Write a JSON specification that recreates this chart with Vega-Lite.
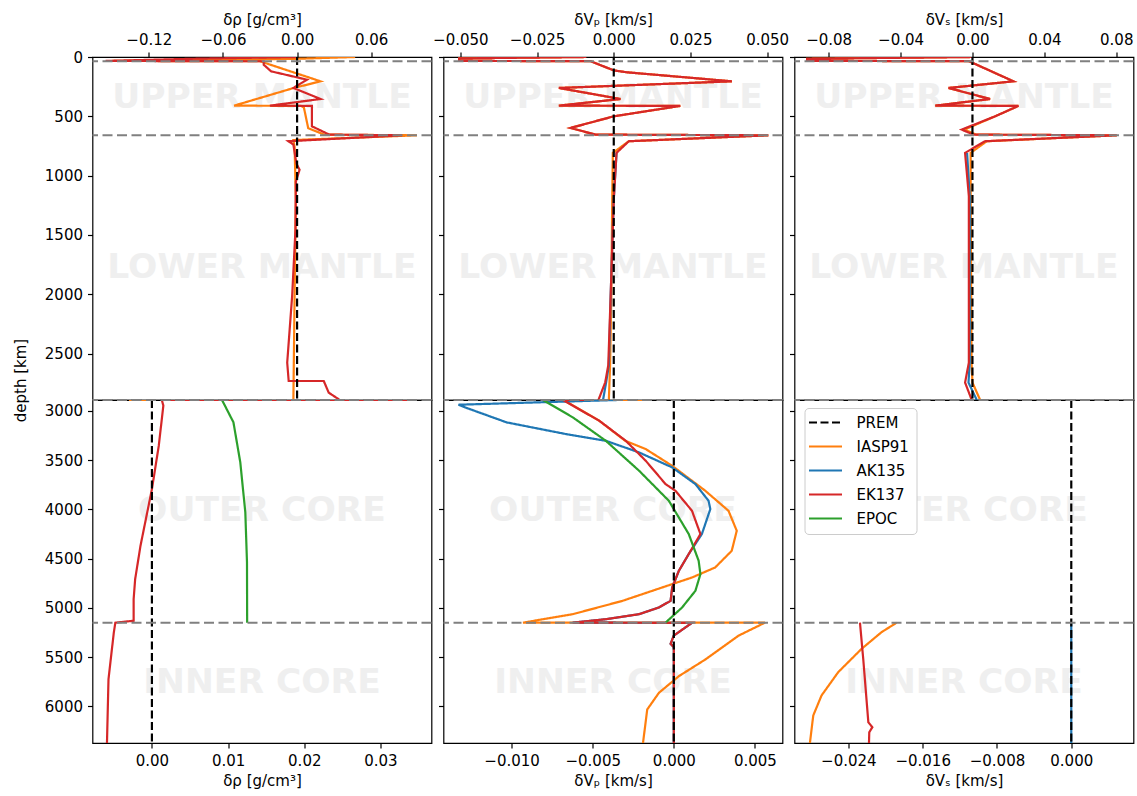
{
  "$schema": "https://vega.github.io/schema/vega-lite/v6.json",
  "padding": {"left": 12.5, "top": 11, "right": 2, "bottom": 2},
  "background": "white",
  "config": {
    "font": "DejaVu Sans",
    "view": {"stroke": "black", "strokeWidth": 1.2},
    "axis": {"domain": false, "grid": false, "tickColor": "black", "tickWidth": 1.2, "tickSize": 5, "labelFontSize": 15, "labelColor": "black", "labelPadding": 5, "titleFontSize": 15, "titleFontWeight": "normal", "titleColor": "black", "labelFont": "DejaVu Sans", "titleFont": "DejaVu Sans", "titlePadding": 5, "labelFlush": false, "labelOverlap": false},
    "legend": {"orient": "none", "legendX": 712, "legendY": 351, "labelFontSize": 15, "labelFont": "DejaVu Sans", "labelColor": "black", "symbolType": "M-2.75,0H2.75", "symbolSize": 144, "symbolStrokeWidth": 2.2, "symbolOffset": 6.5, "labelOffset": 23.5, "rowPadding": 8, "padding": 7, "strokeColor": "#cccccc", "fillColor": "white", "cornerRadius": 4}
  },
  "datasets": {
    "c": [
      {"p":"rm","m":"IASP91","v":0.047,"d":0},{"p":"rm","m":"IASP91","v":0.0,"d":15},{"p":"rm","m":"IASP91","v":-0.15,"d":33},{"p":"rm","m":"IASP91","v":-0.03,"d":36},{"p":"rm","m":"IASP91","v":0.019,"d":205},{"p":"rm","m":"IASP91","v":-0.003,"d":262},{"p":"rm","m":"IASP91","v":-0.051,"d":410},{"p":"rm","m":"IASP91","v":0.003,"d":412},{"p":"rm","m":"IASP91","v":0.0055,"d":425},{"p":"rm","m":"IASP91","v":0.009,"d":600},{"p":"rm","m":"IASP91","v":0.022,"d":654},{"p":"rm","m":"IASP91","v":0.097,"d":660},{"p":"rm","m":"IASP91","v":-0.003,"d":700},{"p":"rm","m":"IASP91","v":-0.002,"d":760},{"p":"rm","m":"IASP91","v":-0.001,"d":1200},{"p":"rm","m":"IASP91","v":-0.002,"d":2000},{"p":"rm","m":"IASP91","v":-0.003,"d":2891},
      {"p":"rm","m":"EK137","v":0.0,"d":0},{"p":"rm","m":"EK137","v":-0.085,"d":15},{"p":"rm","m":"EK137","v":-0.155,"d":33},{"p":"rm","m":"EK137","v":-0.027,"d":36},{"p":"rm","m":"EK137","v":-0.027,"d":65},{"p":"rm","m":"EK137","v":-0.021,"d":121},{"p":"rm","m":"EK137","v":0.008,"d":191},{"p":"rm","m":"EK137","v":-0.003,"d":261},{"p":"rm","m":"EK137","v":0.019,"d":354},{"p":"rm","m":"EK137","v":-0.022,"d":410},{"p":"rm","m":"EK137","v":0.012,"d":412},{"p":"rm","m":"EK137","v":0.012,"d":584},{"p":"rm","m":"EK137","v":0.026,"d":654},{"p":"rm","m":"EK137","v":0.085,"d":660},{"p":"rm","m":"EK137","v":-0.007,"d":710},{"p":"rm","m":"EK137","v":-0.003,"d":738},{"p":"rm","m":"EK137","v":-0.0005,"d":900},{"p":"rm","m":"EK137","v":0.002,"d":950},{"p":"rm","m":"EK137","v":-0.001,"d":1050},{"p":"rm","m":"EK137","v":-0.0013,"d":1454},{"p":"rm","m":"EK137","v":-0.004,"d":2015},{"p":"rm","m":"EK137","v":-0.008,"d":2576},{"p":"rm","m":"EK137","v":-0.0068,"d":2731},{"p":"rm","m":"EK137","v":0.0216,"d":2731},{"p":"rm","m":"EK137","v":0.0256,"d":2829},{"p":"rm","m":"EK137","v":0.0337,"d":2885},{"p":"rm","m":"EK137","v":0.0345,"d":2891},
      {"p":"rm","m":"PREM","v":0,"d":0},{"p":"rm","m":"PREM","v":0,"d":2891},

      {"p":"pm","m":"IASP91","v":-0.009,"d":0},{"p":"pm","m":"IASP91","v":-0.0504,"d":12},{"p":"pm","m":"IASP91","v":-0.0504,"d":33},{"p":"pm","m":"IASP91","v":-0.0076,"d":35},{"p":"pm","m":"IASP91","v":0.0,"d":113},{"p":"pm","m":"IASP91","v":0.0043,"d":129},{"p":"pm","m":"IASP91","v":0.0385,"d":205},{"p":"pm","m":"IASP91","v":-0.0179,"d":261},{"p":"pm","m":"IASP91","v":0.0022,"d":354},{"p":"pm","m":"IASP91","v":-0.0179,"d":410},{"p":"pm","m":"IASP91","v":0.0217,"d":412},{"p":"pm","m":"IASP91","v":0.0,"d":500},{"p":"pm","m":"IASP91","v":-0.0141,"d":598},{"p":"pm","m":"IASP91","v":-0.006,"d":654},{"p":"pm","m":"IASP91","v":0.0504,"d":660},{"p":"pm","m":"IASP91","v":0.0049,"d":710},{"p":"pm","m":"IASP91","v":-0.0003,"d":808},{"p":"pm","m":"IASP91","v":-0.0005,"d":1200},{"p":"pm","m":"IASP91","v":-0.0008,"d":2000},{"p":"pm","m":"IASP91","v":-0.0012,"d":2600},{"p":"pm","m":"IASP91","v":-0.0014,"d":2744},{"p":"pm","m":"IASP91","v":-0.0016,"d":2891},
      {"p":"pm","m":"AK135","v":0.0009,"d":808},{"p":"pm","m":"AK135","v":0.0,"d":1200},{"p":"pm","m":"AK135","v":-0.001,"d":2000},{"p":"pm","m":"AK135","v":-0.0016,"d":2600},{"p":"pm","m":"AK135","v":-0.0025,"d":2744},{"p":"pm","m":"AK135","v":-0.0035,"d":2891},
      {"p":"pm","m":"EK137","v":-0.009,"d":0},{"p":"pm","m":"EK137","v":-0.0504,"d":12},{"p":"pm","m":"EK137","v":-0.0504,"d":33},{"p":"pm","m":"EK137","v":-0.0076,"d":35},{"p":"pm","m":"EK137","v":0.0,"d":113},{"p":"pm","m":"EK137","v":0.0043,"d":129},{"p":"pm","m":"EK137","v":0.0385,"d":205},{"p":"pm","m":"EK137","v":-0.0179,"d":261},{"p":"pm","m":"EK137","v":0.0022,"d":354},{"p":"pm","m":"EK137","v":-0.0179,"d":410},{"p":"pm","m":"EK137","v":0.0217,"d":412},{"p":"pm","m":"EK137","v":0.0,"d":500},{"p":"pm","m":"EK137","v":-0.0141,"d":598},{"p":"pm","m":"EK137","v":-0.006,"d":654},{"p":"pm","m":"EK137","v":0.0504,"d":660},{"p":"pm","m":"EK137","v":0.0049,"d":710},{"p":"pm","m":"EK137","v":0.0009,"d":808},{"p":"pm","m":"EK137","v":0.0,"d":1200},{"p":"pm","m":"EK137","v":-0.001,"d":2000},{"p":"pm","m":"EK137","v":-0.0018,"d":2600},{"p":"pm","m":"EK137","v":-0.0028,"d":2744},{"p":"pm","m":"EK137","v":-0.005,"d":2891},
      {"p":"pm","m":"PREM","v":0,"d":0},{"p":"pm","m":"PREM","v":0,"d":2891},

      {"p":"sm","m":"IASP91","v":0.0,"d":0},{"p":"sm","m":"IASP91","v":-0.092,"d":15},{"p":"sm","m":"IASP91","v":-0.092,"d":33},{"p":"sm","m":"IASP91","v":-0.002,"d":35},{"p":"sm","m":"IASP91","v":0.0228,"d":205},{"p":"sm","m":"IASP91","v":-0.0133,"d":261},{"p":"sm","m":"IASP91","v":0.0098,"d":354},{"p":"sm","m":"IASP91","v":-0.0207,"d":410},{"p":"sm","m":"IASP91","v":0.0256,"d":412},{"p":"sm","m":"IASP91","v":0.0126,"d":500},{"p":"sm","m":"IASP91","v":-0.0045,"d":612},{"p":"sm","m":"IASP91","v":0.002,"d":654},{"p":"sm","m":"IASP91","v":0.0803,"d":660},{"p":"sm","m":"IASP91","v":0.008,"d":710},{"p":"sm","m":"IASP91","v":-0.001,"d":808},{"p":"sm","m":"IASP91","v":-0.001,"d":1173},{"p":"sm","m":"IASP91","v":-0.0005,"d":2576},{"p":"sm","m":"IASP91","v":0.0,"d":2744},{"p":"sm","m":"IASP91","v":0.0043,"d":2891},
      {"p":"sm","m":"AK135","v":-0.003,"d":808},{"p":"sm","m":"AK135","v":-0.0015,"d":1173},{"p":"sm","m":"AK135","v":-0.0015,"d":2576},{"p":"sm","m":"AK135","v":-0.0022,"d":2744},{"p":"sm","m":"AK135","v":0.0024,"d":2891},
      {"p":"sm","m":"EK137","v":0.0,"d":0},{"p":"sm","m":"EK137","v":-0.092,"d":15},{"p":"sm","m":"EK137","v":-0.092,"d":33},{"p":"sm","m":"EK137","v":-0.002,"d":35},{"p":"sm","m":"EK137","v":0.0228,"d":205},{"p":"sm","m":"EK137","v":-0.0133,"d":261},{"p":"sm","m":"EK137","v":0.0098,"d":354},{"p":"sm","m":"EK137","v":-0.0207,"d":410},{"p":"sm","m":"EK137","v":0.0256,"d":412},{"p":"sm","m":"EK137","v":0.0126,"d":500},{"p":"sm","m":"EK137","v":-0.006,"d":612},{"p":"sm","m":"EK137","v":0.0006,"d":654},{"p":"sm","m":"EK137","v":0.0803,"d":660},{"p":"sm","m":"EK137","v":0.007,"d":710},{"p":"sm","m":"EK137","v":-0.0041,"d":808},{"p":"sm","m":"EK137","v":-0.002,"d":1173},{"p":"sm","m":"EK137","v":-0.002,"d":2576},{"p":"sm","m":"EK137","v":-0.0041,"d":2744},{"p":"sm","m":"EK137","v":-0.0004,"d":2891},
      {"p":"sm","m":"PREM","v":0,"d":0},{"p":"sm","m":"PREM","v":0,"d":2891},

      {"p":"rc","m":"IASP91","v":-0.003,"d":2891},{"p":"rc","m":"IASP91","v":0.0,"d":2891},
      {"p":"rc","m":"EK137","v":0.0345,"d":2891},{"p":"rc","m":"EK137","v":0.0013,"d":2891},{"p":"rc","m":"EK137","v":0.0015,"d":2948},{"p":"rc","m":"EK137","v":0.0009,"d":3355},{"p":"rc","m":"EK137","v":0.0,"d":3795},{"p":"rc","m":"EK137","v":-0.0015,"d":4370},{"p":"rc","m":"EK137","v":-0.0022,"d":4708},{"p":"rc","m":"EK137","v":-0.0024,"d":4911},{"p":"rc","m":"EK137","v":-0.0024,"d":5131},{"p":"rc","m":"EK137","v":-0.0048,"d":5150},{"p":"rc","m":"EK137","v":-0.005,"d":5249},{"p":"rc","m":"EK137","v":-0.0057,"d":5723},{"p":"rc","m":"EK137","v":-0.0059,"d":6371},
      {"p":"rc","m":"EPOC","v":0.0092,"d":2891},{"p":"rc","m":"EPOC","v":0.0107,"d":3117},{"p":"rc","m":"EPOC","v":0.0116,"d":3523},{"p":"rc","m":"EPOC","v":0.01226,"d":4031},{"p":"rc","m":"EPOC","v":0.01248,"d":4539},{"p":"rc","m":"EPOC","v":0.0125,"d":5150},
      {"p":"rc","m":"PREM","v":0,"d":2891},{"p":"rc","m":"PREM","v":0,"d":6371},

      {"p":"pc","m":"IASP91","v":-0.0018,"d":2891},{"p":"pc","m":"IASP91","v":-0.0068,"d":2891},{"p":"pc","m":"IASP91","v":-0.0062,"d":2948},{"p":"pc","m":"IASP91","v":-0.0046,"d":3101},{"p":"pc","m":"IASP91","v":-0.003,"d":3305},{"p":"pc","m":"IASP91","v":-0.00173,"d":3389},{"p":"pc","m":"IASP91","v":-0.0001,"d":3559},{"p":"pc","m":"IASP91","v":0.00194,"d":3812},{"p":"pc","m":"IASP91","v":0.00337,"d":4015},{"p":"pc","m":"IASP91","v":0.00388,"d":4218},{"p":"pc","m":"IASP91","v":0.00357,"d":4421},{"p":"pc","m":"IASP91","v":0.00255,"d":4590},{"p":"pc","m":"IASP91","v":0.00112,"d":4692},{"p":"pc","m":"IASP91","v":-0.0001,"d":4759},{"p":"pc","m":"IASP91","v":-0.00317,"d":4929},{"p":"pc","m":"IASP91","v":-0.00623,"d":5064},{"p":"pc","m":"IASP91","v":-0.0093,"d":5150},{"p":"pc","m":"IASP91","v":0.00562,"d":5150},{"p":"pc","m":"IASP91","v":0.004,"d":5281},{"p":"pc","m":"IASP91","v":0.00194,"d":5524},{"p":"pc","m":"IASP91","v":0.00031,"d":5693},{"p":"pc","m":"IASP91","v":-0.00092,"d":5862},{"p":"pc","m":"IASP91","v":-0.00164,"d":6031},{"p":"pc","m":"IASP91","v":-0.0019,"d":6371},
      {"p":"pc","m":"AK135","v":-0.0035,"d":2891},{"p":"pc","m":"AK135","v":-0.01328,"d":2939},{"p":"pc","m":"AK135","v":-0.01287,"d":2966},{"p":"pc","m":"AK135","v":-0.01031,"d":3118},{"p":"pc","m":"AK135","v":-0.00664,"d":3237},{"p":"pc","m":"AK135","v":-0.00419,"d":3305},{"p":"pc","m":"AK135","v":-0.00214,"d":3423},{"p":"pc","m":"AK135","v":-0.0001,"d":3575},{"p":"pc","m":"AK135","v":0.00133,"d":3744},{"p":"pc","m":"AK135","v":0.00214,"d":3913},{"p":"pc","m":"AK135","v":0.00225,"d":3998},{"p":"pc","m":"AK135","v":0.00173,"d":4251},{"p":"pc","m":"AK135","v":0.00092,"d":4454},{"p":"pc","m":"AK135","v":0.00031,"d":4624},{"p":"pc","m":"AK135","v":-0.0001,"d":4793},{"p":"pc","m":"AK135","v":-0.0002,"d":4929},{"p":"pc","m":"AK135","v":-0.00092,"d":4996},{"p":"pc","m":"AK135","v":-0.00214,"d":5064},{"p":"pc","m":"AK135","v":-0.00419,"d":5115},{"p":"pc","m":"AK135","v":-0.00623,"d":5150},{"p":"pc","m":"AK135","v":0.00112,"d":5152},{"p":"pc","m":"AK135","v":0.0,"d":5281},{"p":"pc","m":"AK135","v":-0.0002,"d":5365},{"p":"pc","m":"AK135","v":0.0,"d":5399},{"p":"pc","m":"AK135","v":0.0,"d":6371},
      {"p":"pc","m":"EK137","v":-0.005,"d":2891},{"p":"pc","m":"EK137","v":-0.00684,"d":2891},{"p":"pc","m":"EK137","v":-0.00623,"d":2948},{"p":"pc","m":"EK137","v":-0.0046,"d":3101},{"p":"pc","m":"EK137","v":-0.00296,"d":3305},{"p":"pc","m":"EK137","v":-0.00173,"d":3508},{"p":"pc","m":"EK137","v":-0.00051,"d":3744},{"p":"pc","m":"EK137","v":0.0001,"d":3812},{"p":"pc","m":"EK137","v":0.00112,"d":4015},{"p":"pc","m":"EK137","v":0.00164,"d":4251},{"p":"pc","m":"EK137","v":0.00092,"d":4454},{"p":"pc","m":"EK137","v":0.00031,"d":4624},{"p":"pc","m":"EK137","v":-0.0001,"d":4793},{"p":"pc","m":"EK137","v":-0.0002,"d":4929},{"p":"pc","m":"EK137","v":-0.00092,"d":4996},{"p":"pc","m":"EK137","v":-0.00214,"d":5064},{"p":"pc","m":"EK137","v":-0.00419,"d":5115},{"p":"pc","m":"EK137","v":-0.00623,"d":5150},{"p":"pc","m":"EK137","v":0.00112,"d":5152},{"p":"pc","m":"EK137","v":0.0,"d":5281},{"p":"pc","m":"EK137","v":-0.0002,"d":5365},{"p":"pc","m":"EK137","v":0.0,"d":5399},{"p":"pc","m":"EK137","v":0.0,"d":6371},
      {"p":"pc","m":"EPOC","v":-0.00807,"d":2891},{"p":"pc","m":"EPOC","v":-0.00623,"d":3067},{"p":"pc","m":"EPOC","v":-0.00419,"d":3305},{"p":"pc","m":"EPOC","v":-0.00214,"d":3609},{"p":"pc","m":"EPOC","v":-0.00031,"d":3913},{"p":"pc","m":"EPOC","v":0.00092,"d":4251},{"p":"pc","m":"EPOC","v":0.00153,"d":4522},{"p":"pc","m":"EPOC","v":0.00164,"d":4658},{"p":"pc","m":"EPOC","v":0.00133,"d":4827},{"p":"pc","m":"EPOC","v":0.00051,"d":4996},{"p":"pc","m":"EPOC","v":-0.00051,"d":5150},
      {"p":"pc","m":"PREM","v":0,"d":2891},{"p":"pc","m":"PREM","v":0,"d":6371},

      {"p":"sc","m":"IASP91","v":-0.0188,"d":5150},{"p":"sc","m":"IASP91","v":-0.02042,"d":5246},{"p":"sc","m":"IASP91","v":-0.02258,"d":5416},{"p":"sc","m":"IASP91","v":-0.02509,"d":5652},{"p":"sc","m":"IASP91","v":-0.02689,"d":5889},{"p":"sc","m":"IASP91","v":-0.02778,"d":6092},{"p":"sc","m":"IASP91","v":-0.02814,"d":6371},
      {"p":"sc","m":"AK135","v":0,"d":5150},{"p":"sc","m":"AK135","v":0,"d":6371},
      {"p":"sc","m":"EK137","v":-0.02275,"d":5150},{"p":"sc","m":"EK137","v":-0.0224,"d":5517},{"p":"sc","m":"EK137","v":-0.02185,"d":6160},{"p":"sc","m":"EK137","v":-0.02142,"d":6211},{"p":"sc","m":"EK137","v":-0.02175,"d":6262},{"p":"sc","m":"EK137","v":-0.02178,"d":6371},
      {"p":"sc","m":"PREM","v":0,"d":2891},{"p":"sc","m":"PREM","v":0,"d":6371}
    ],
    "w": [
      {"p":"rm","t":"UPPER MANTLE","v":-0.0284,"d":347},{"p":"rm","t":"LOWER MANTLE","v":-0.0284,"d":1775},
      {"p":"pm","t":"UPPER MANTLE","v":-0.00025,"d":347},{"p":"pm","t":"LOWER MANTLE","v":-0.00025,"d":1775},
      {"p":"sm","t":"UPPER MANTLE","v":-0.0047,"d":347},{"p":"sm","t":"LOWER MANTLE","v":-0.0047,"d":1775},
      {"p":"rc","t":"OUTER CORE","v":0.01445,"d":4020},{"p":"rc","t":"INNER CORE","v":0.01445,"d":5760},
      {"p":"pc","t":"OUTER CORE","v":-0.00375,"d":4020},{"p":"pc","t":"INNER CORE","v":-0.00375,"d":5760},
      {"p":"sc","t":"OUTER CORE","v":-0.01155,"d":4020},{"p":"sc","t":"INNER CORE","v":-0.01155,"d":5760}
    ],
    "h": [
      {"p":"rm","d":35},{"p":"rm","d":660},{"p":"rm","d":2891},
      {"p":"pm","d":35},{"p":"pm","d":660},{"p":"pm","d":2891},
      {"p":"sm","d":35},{"p":"sm","d":660},{"p":"sm","d":2891},
      {"p":"rc","d":2891},{"p":"rc","d":5150},
      {"p":"pc","d":2891},{"p":"pc","d":5150},
      {"p":"sc","d":2891},{"p":"sc","d":5150}
    ]
  },
  "columns": 3,
  "spacing": {"row": 0, "column": 12},
  "bounds": "flush",
  "concat": [
    {
      "width": 339, "height": 343,
      "layer": [
        {"data": {"name": "w"}, "transform": [{"filter": "datum.p == 'rm'"}], "mark": {"type": "text", "fontSize": 34.5, "fontWeight": "bold", "color": "#efefef"}, "encoding": {"x": {"field": "v", "type": "quantitative"}, "y": {"field": "d", "type": "quantitative"}, "text": {"field": "t"}}},
        {"data": {"name": "c"}, "transform": [{"filter": "datum.p == 'rm'"}], "mark": {"type": "line", "strokeWidth": 2.2, "clip": true},
         "encoding": {
           "x": {"field": "v", "type": "quantitative", "scale": {"domain": [-0.1656, 0.1088], "nice": false, "zero": false}, "axis": {"orient": "top", "values": [-0.12, -0.06, 0, 0.06], "format": ".2f", "title": "δρ [g/cm³]"}},
           "y": {"field": "d", "type": "quantitative", "scale": {"domain": [0, 2891], "reverse": true, "nice": false, "zero": false}, "axis": {"values": [0, 500, 1000, 1500, 2000, 2500], "format": "d", "title": "depth [km]", "titleX": -72, "titleY": 323, "titleAngle": -90, "titleAlign": "center", "titleBaseline": "middle"}},
           "color": {"field": "m", "type": "nominal", "scale": {"domain": ["PREM", "IASP91", "AK135", "EK137", "EPOC"], "range": ["#000000", "#ff7f0e", "#1f77b4", "#d62728", "#2ca02c"]}, "legend": {"title": null}},
           "strokeDash": {"field": "m", "type": "nominal", "scale": {"domain": ["PREM", "IASP91", "AK135", "EK137", "EPOC"], "range": [[8, 3.5], [1, 0], [1, 0], [1, 0], [1, 0]]}, "legend": {"title": null}},
           "order": {"value": null}
         }},
        {"data": {"name": "h"}, "transform": [{"filter": "datum.p == 'rm'"}], "mark": {"type": "rule", "color": "#808080", "strokeDash": [10, 4.5], "strokeWidth": 2}, "encoding": {"y": {"field": "d", "type": "quantitative"}}}
      ]
    },
    {
      "width": 339, "height": 343,
      "layer": [
        {"data": {"name": "w"}, "transform": [{"filter": "datum.p == 'pm'"}], "mark": {"type": "text", "fontSize": 34.5, "fontWeight": "bold", "color": "#efefef"}, "encoding": {"x": {"field": "v", "type": "quantitative"}, "y": {"field": "d", "type": "quantitative"}, "text": {"field": "t"}}},
        {"data": {"name": "c"}, "transform": [{"filter": "datum.p == 'pm'"}], "mark": {"type": "line", "strokeWidth": 2.2, "clip": true},
         "encoding": {
           "x": {"field": "v", "type": "quantitative", "scale": {"domain": [-0.0555, 0.055], "nice": false, "zero": false}, "axis": {"orient": "top", "values": [-0.05, -0.025, 0, 0.025, 0.05], "format": ".3f", "title": "δVₚ [km/s]"}},
           "y": {"field": "d", "type": "quantitative", "scale": {"domain": [0, 2891], "reverse": true, "nice": false, "zero": false}, "axis": {"values": [0, 500, 1000, 1500, 2000, 2500], "labels": false, "title": null}},
           "color": {"field": "m", "type": "nominal", "scale": {"domain": ["PREM", "IASP91", "AK135", "EK137", "EPOC"], "range": ["#000000", "#ff7f0e", "#1f77b4", "#d62728", "#2ca02c"]}, "legend": {"title": null}},
           "strokeDash": {"field": "m", "type": "nominal", "scale": {"domain": ["PREM", "IASP91", "AK135", "EK137", "EPOC"], "range": [[8, 3.5], [1, 0], [1, 0], [1, 0], [1, 0]]}, "legend": {"title": null}},
           "order": {"value": null}
         }},
        {"data": {"name": "h"}, "transform": [{"filter": "datum.p == 'pm'"}], "mark": {"type": "rule", "color": "#808080", "strokeDash": [10, 4.5], "strokeWidth": 2}, "encoding": {"y": {"field": "d", "type": "quantitative"}}}
      ]
    },
    {
      "width": 339, "height": 343,
      "layer": [
        {"data": {"name": "w"}, "transform": [{"filter": "datum.p == 'sm'"}], "mark": {"type": "text", "fontSize": 34.5, "fontWeight": "bold", "color": "#efefef"}, "encoding": {"x": {"field": "v", "type": "quantitative"}, "y": {"field": "d", "type": "quantitative"}, "text": {"field": "t"}}},
        {"data": {"name": "c"}, "transform": [{"filter": "datum.p == 'sm'"}], "mark": {"type": "line", "strokeWidth": 2.2, "clip": true},
         "encoding": {
           "x": {"field": "v", "type": "quantitative", "scale": {"domain": [-0.099, 0.0896], "nice": false, "zero": false}, "axis": {"orient": "top", "values": [-0.08, -0.04, 0, 0.04, 0.08], "format": ".2f", "title": "δVₛ [km/s]"}},
           "y": {"field": "d", "type": "quantitative", "scale": {"domain": [0, 2891], "reverse": true, "nice": false, "zero": false}, "axis": {"values": [0, 500, 1000, 1500, 2000, 2500], "labels": false, "title": null}},
           "color": {"field": "m", "type": "nominal", "scale": {"domain": ["PREM", "IASP91", "AK135", "EK137", "EPOC"], "range": ["#000000", "#ff7f0e", "#1f77b4", "#d62728", "#2ca02c"]}, "legend": {"title": null}},
           "strokeDash": {"field": "m", "type": "nominal", "scale": {"domain": ["PREM", "IASP91", "AK135", "EK137", "EPOC"], "range": [[8, 3.5], [1, 0], [1, 0], [1, 0], [1, 0]]}, "legend": {"title": null}},
           "order": {"value": null}
         }},
        {"data": {"name": "h"}, "transform": [{"filter": "datum.p == 'sm'"}], "mark": {"type": "rule", "color": "#808080", "strokeDash": [10, 4.5], "strokeWidth": 2}, "encoding": {"y": {"field": "d", "type": "quantitative"}}}
      ]
    },
    {
      "width": 339, "height": 343,
      "layer": [
        {"data": {"name": "w"}, "transform": [{"filter": "datum.p == 'rc'"}], "mark": {"type": "text", "fontSize": 34.5, "fontWeight": "bold", "color": "#efefef"}, "encoding": {"x": {"field": "v", "type": "quantitative"}, "y": {"field": "d", "type": "quantitative"}, "text": {"field": "t"}}},
        {"data": {"name": "c"}, "transform": [{"filter": "datum.p == 'rc'"}], "mark": {"type": "line", "strokeWidth": 2.2, "clip": true},
         "encoding": {
           "x": {"field": "v", "type": "quantitative", "scale": {"domain": [-0.0078, 0.0367], "nice": false, "zero": false}, "axis": {"orient": "bottom", "values": [0, 0.01, 0.02, 0.03], "format": ".2f", "title": "δρ [g/cm³]"}},
           "y": {"field": "d", "type": "quantitative", "scale": {"domain": [2891, 6371], "reverse": true, "nice": false, "zero": false}, "axis": {"values": [3000, 3500, 4000, 4500, 5000, 5500, 6000], "format": "d", "title": null}},
           "color": {"field": "m", "type": "nominal", "scale": {"domain": ["PREM", "IASP91", "AK135", "EK137", "EPOC"], "range": ["#000000", "#ff7f0e", "#1f77b4", "#d62728", "#2ca02c"]}, "legend": {"title": null}},
           "strokeDash": {"field": "m", "type": "nominal", "scale": {"domain": ["PREM", "IASP91", "AK135", "EK137", "EPOC"], "range": [[8, 3.5], [1, 0], [1, 0], [1, 0], [1, 0]]}, "legend": {"title": null}},
           "order": {"value": null}
         }},
        {"data": {"name": "h"}, "transform": [{"filter": "datum.p == 'rc'"}], "mark": {"type": "rule", "color": "#808080", "strokeDash": [10, 4.5], "strokeWidth": 2}, "encoding": {"y": {"field": "d", "type": "quantitative"}}}
      ]
    },
    {
      "width": 339, "height": 343,
      "layer": [
        {"data": {"name": "w"}, "transform": [{"filter": "datum.p == 'pc'"}], "mark": {"type": "text", "fontSize": 34.5, "fontWeight": "bold", "color": "#efefef"}, "encoding": {"x": {"field": "v", "type": "quantitative"}, "y": {"field": "d", "type": "quantitative"}, "text": {"field": "t"}}},
        {"data": {"name": "c"}, "transform": [{"filter": "datum.p == 'pc'"}], "mark": {"type": "line", "strokeWidth": 2.2, "clip": true},
         "encoding": {
           "x": {"field": "v", "type": "quantitative", "scale": {"domain": [-0.0142, 0.0067], "nice": false, "zero": false}, "axis": {"orient": "bottom", "values": [-0.01, -0.005, 0, 0.005], "format": ".3f", "title": "δVₚ [km/s]"}},
           "y": {"field": "d", "type": "quantitative", "scale": {"domain": [2891, 6371], "reverse": true, "nice": false, "zero": false}, "axis": {"values": [3000, 3500, 4000, 4500, 5000, 5500, 6000], "labels": false, "title": null}},
           "color": {"field": "m", "type": "nominal", "scale": {"domain": ["PREM", "IASP91", "AK135", "EK137", "EPOC"], "range": ["#000000", "#ff7f0e", "#1f77b4", "#d62728", "#2ca02c"]}, "legend": {"title": null}},
           "strokeDash": {"field": "m", "type": "nominal", "scale": {"domain": ["PREM", "IASP91", "AK135", "EK137", "EPOC"], "range": [[8, 3.5], [1, 0], [1, 0], [1, 0], [1, 0]]}, "legend": {"title": null}},
           "order": {"value": null}
         }},
        {"data": {"name": "h"}, "transform": [{"filter": "datum.p == 'pc'"}], "mark": {"type": "rule", "color": "#808080", "strokeDash": [10, 4.5], "strokeWidth": 2}, "encoding": {"y": {"field": "d", "type": "quantitative"}}}
      ]
    },
    {
      "width": 339, "height": 343,
      "layer": [
        {"data": {"name": "w"}, "transform": [{"filter": "datum.p == 'sc'"}], "mark": {"type": "text", "fontSize": 34.5, "fontWeight": "bold", "color": "#efefef"}, "encoding": {"x": {"field": "v", "type": "quantitative"}, "y": {"field": "d", "type": "quantitative"}, "text": {"field": "t"}}},
        {"data": {"name": "c"}, "transform": [{"filter": "datum.p == 'sc'"}], "mark": {"type": "line", "strokeWidth": 2.2, "clip": true},
         "encoding": {
           "x": {"field": "v", "type": "quantitative", "scale": {"domain": [-0.0298, 0.0067], "nice": false, "zero": false}, "axis": {"orient": "bottom", "values": [-0.024, -0.016, -0.008, 0], "format": ".3f", "title": "δVₛ [km/s]"}},
           "y": {"field": "d", "type": "quantitative", "scale": {"domain": [2891, 6371], "reverse": true, "nice": false, "zero": false}, "axis": {"values": [3000, 3500, 4000, 4500, 5000, 5500, 6000], "labels": false, "title": null}},
           "color": {"field": "m", "type": "nominal", "scale": {"domain": ["PREM", "IASP91", "AK135", "EK137", "EPOC"], "range": ["#000000", "#ff7f0e", "#1f77b4", "#d62728", "#2ca02c"]}, "legend": {"title": null}},
           "strokeDash": {"field": "m", "type": "nominal", "scale": {"domain": ["PREM", "IASP91", "AK135", "EK137", "EPOC"], "range": [[8, 3.5], [1, 0], [1, 0], [1, 0], [1, 0]]}, "legend": {"title": null}},
           "order": {"value": null}
         }},
        {"data": {"name": "h"}, "transform": [{"filter": "datum.p == 'sc'"}], "mark": {"type": "rule", "color": "#808080", "strokeDash": [10, 4.5], "strokeWidth": 2}, "encoding": {"y": {"field": "d", "type": "quantitative"}}}
      ]
    }
  ]
}
